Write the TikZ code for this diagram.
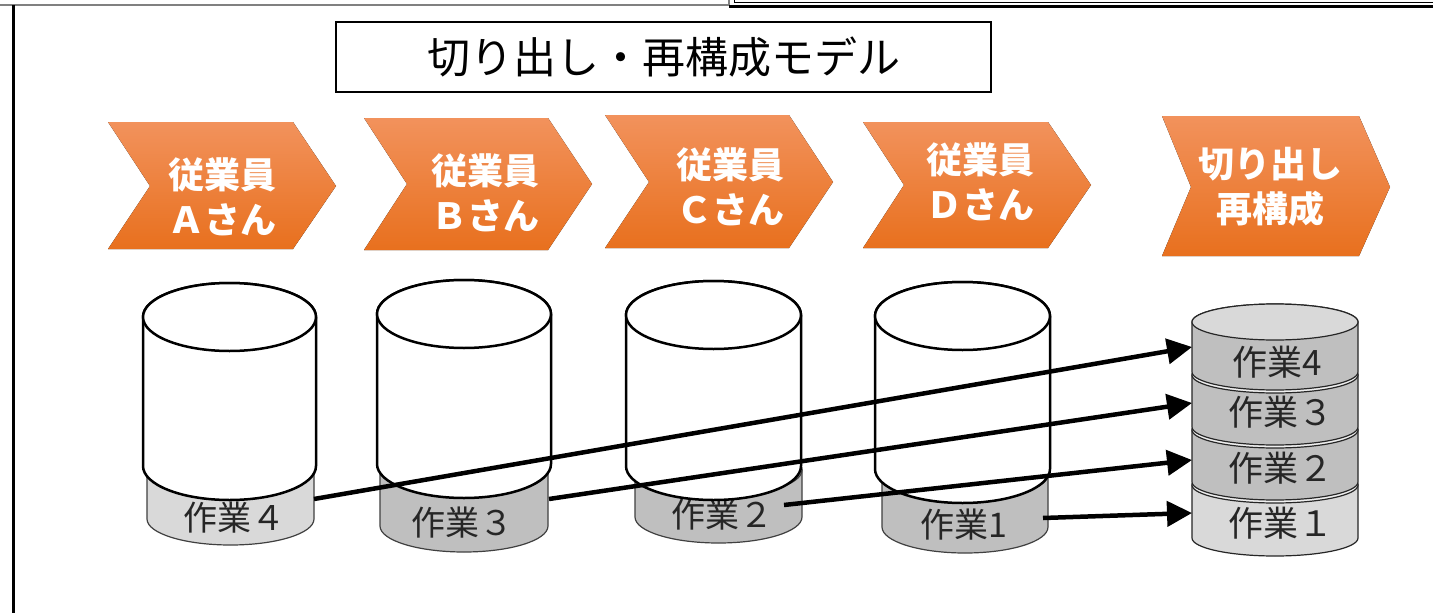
\documentclass[tikz,border=0pt]{standalone}
\usepackage{fontspec}
\setmainfont{Noto Sans CJK JP}
\usetikzlibrary{arrows.meta}
\definecolor{orL}{HTML}{F2925C}
\definecolor{orD}{HTML}{E8701E}
\definecolor{gL}{HTML}{D9D9D9}
\definecolor{gD}{HTML}{BFBFBF}
\definecolor{gT}{HTML}{EFEFEF}
\newcommand\mycyl[6]{% cx rx ytop ybot ry style
  \filldraw[#6] ({#1-#2},#3) -- ({#1-#2},#4) arc[start angle=180,end angle=0,x radius=#2,y radius=#5] -- ({#1+#2},#3) arc[start angle=0,end angle=-180,x radius=#2,y radius=#5] -- cycle;
}
\newcommand\mychev[7]{% x1 xr xtip ytop ybot ymid notch
  \fill[chev] (#1,#4) -- (#2,#4) -- (#3,#6) -- (#2,#5) -- (#1,#5) -- (#7,#6) -- cycle;
}
\tikzset{
  chev/.style={top color=orL, bottom color=orD},
  chevtext/.style={text=white, font=\fontsize{36}{45}\selectfont\bfseries, align=center, inner sep=0pt},
  cylstyle/.style={fill=white, draw=black, line width=2.5pt},
  disk4/.style={fill=gL, draw=black!75, line width=1.2pt},
  disk/.style={fill=gD, draw=black!75, line width=1.2pt},
  seg/.style={draw=black!85, line width=1.2pt},
  lbl/.style={font=\fontsize{34}{40}\selectfont, text=black!85, inner sep=0pt},
  flow/.style={line width=4.5pt, -{Triangle[length=25pt,width=25pt]}},
}
\begin{document}
\begin{tikzpicture}[x=1pt,y=-1pt]
\useasboundingbox (0,0) rectangle (1433,613);
\fill[white] (0,0) rectangle (1433,613);
% frame remnants
\draw[gray, line width=2pt] (0,5) -- (729,5);
\draw[black, line width=3pt] (13,5) -- (13,613);
\draw[gray, line width=1.5pt] (729,0) -- (729,6);
\draw[black, line width=3pt] (729,6) -- (1433,6);
\draw[black, line width=1pt] (734,0) -- (734,2) -- (1433,2);
% title
\node[draw=black, line width=2pt, minimum width=655pt, minimum height=70pt, inner sep=0pt,
  font=\fontsize{43}{46}\selectfont] (title) at (663.5,57) {切り出し・再構成モデル};
% chevrons
\mychev{108}{293}{336}{122}{249}{186}{150}
\mychev{364}{548}{592}{118}{250}{184}{407}
\mychev{605}{789}{833}{115}{248}{182}{649}
\mychev{863}{1048}{1091}{122}{248}{185}{904}
\mychev{1162}{1359}{1390}{116}{256}{187}{1191}
\node[chevtext] (ca) at (222,197) {従業員\\Ａさん};
\node[chevtext] (cb) at (485,193) {従業員\\Ｂさん};
\node[chevtext] (cc) at (730,187) {従業員\\Ｃさん};
\node[chevtext] (cd) at (980,182) {従業員\\Ｄさん};
\node[chevtext] (ce) at (1270,187) {切り出し\\再構成};
% disks under cylinders
\mycyl{230.5}{83.5}{470}{519}{26}{disk4}
\filldraw[disk4] (230.5,470) ellipse[x radius=83.5, y radius=26];
\mycyl{464}{84}{470}{526}{26}{disk}
\filldraw[disk] (464,470) ellipse[x radius=84, y radius=26];
\mycyl{718.5}{83.5}{470}{517}{26}{disk}
\filldraw[disk] (718.5,470) ellipse[x radius=83.5, y radius=26];
\mycyl{965}{83}{474}{527}{26}{disk}
\filldraw[disk] (965,474) ellipse[x radius=83, y radius=26];
\node[lbl] (w4) at (234,518) {作業４};
\node[lbl] (w3) at (462,523) {作業３};
\node[lbl] (w2) at (722,515) {作業２};
\node[lbl] (w1) at (964,525) {作業1};
% cylinders
\mycyl{229.5}{86.5}{317}{466}{34}{cylstyle}
\filldraw[cylstyle] (229.5,317) ellipse[x radius=86.5, y radius=34];
\mycyl{464}{87}{314}{464}{34}{cylstyle}
\filldraw[cylstyle] (464,314) ellipse[x radius=87, y radius=34];
\mycyl{713.5}{87.5}{315}{466}{34}{cylstyle}
\filldraw[cylstyle] (713.5,315) ellipse[x radius=87.5, y radius=34];
\mycyl{962.5}{87.5}{316}{469}{34}{cylstyle}
\filldraw[cylstyle] (962.5,316) ellipse[x radius=87.5, y radius=34];
% stack
\mycyl{1275}{83}{485}{538}{18}{seg,fill=gL}
\filldraw[seg,fill=gT] (1275,485) ellipse[x radius=83, y radius=18];
\mycyl{1275}{83}{430}{482}{18}{seg,fill=gD}
\filldraw[seg,fill=gT] (1275,430) ellipse[x radius=83, y radius=18];
\mycyl{1275}{83}{375}{427}{18}{seg,fill=gD}
\filldraw[seg,fill=gT] (1275,375) ellipse[x radius=83, y radius=18];
\mycyl{1275}{83}{322}{372}{18}{seg,fill=gD}
\filldraw[seg,fill=gL] (1275,322) ellipse[x radius=83, y radius=18];
\node[lbl,font=\fontsize{35}{40}\selectfont] (r4) at (1277,362) {作業4};
\node[lbl,font=\fontsize{35}{40}\selectfont] (r3) at (1281,412) {作業３};
\node[lbl,font=\fontsize{35}{40}\selectfont] (r2) at (1281,468) {作業２};
\node[lbl,font=\fontsize{35}{40}\selectfont] (r1) at (1281,523) {作業１};
% arrow ends
\coordinate (s4) at (314,499);
\coordinate (s3) at (549,499);
\coordinate (s2) at (784,505);
\coordinate (s1) at (1043,518);
\coordinate (e4) at (1192,347);
\coordinate (e3) at (1192,403);
\coordinate (e2) at (1192,460);
\coordinate (e1) at (1192,513);
\draw[flow] (s4) -- (e4);
\draw[flow] (s3) -- (e3);
\draw[flow] (s2) -- (e2);
\draw[flow] (s1) -- (e1);
\end{tikzpicture}
\end{document}
